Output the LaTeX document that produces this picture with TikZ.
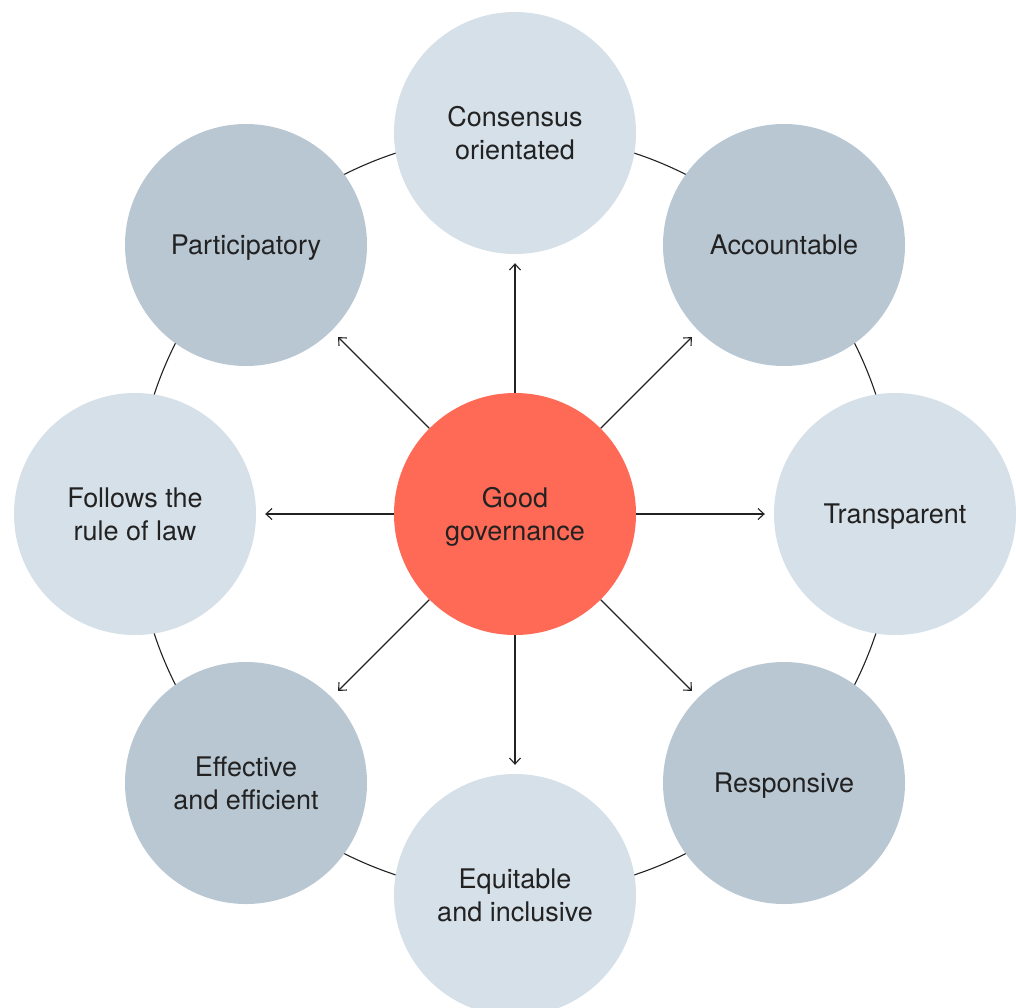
\documentclass[tikz,border=0pt]{standalone}
\usepackage{fontspec}
\setmainfont{TeX Gyre Heros}
\usetikzlibrary{arrows.meta}
\definecolor{lightblob}{HTML}{D6E0E8}
\definecolor{darkblob}{HTML}{B9C7D3}
\definecolor{coreblob}{HTML}{FF6A57}
\definecolor{ink}{HTML}{222222}
\begin{document}
\begin{tikzpicture}[x=1pt,y=-1pt,
  blob/.style={circle,minimum size=242pt,inner sep=0pt,align=center,text depth=0pt,
    font=\fontsize{27}{32.5}\selectfont,text=ink},
  light/.style={blob,fill=lightblob},
  dark/.style={blob,fill=darkblob},
  core/.style={blob,fill=coreblob},
  link/.style={draw=ink,line width=1.1pt,-{Straight Barb[length=6pt,width=11pt,line width=1.1pt]},shorten >=9pt},
  ring/.style={draw=ink,line width=1.1pt}]
\useasboundingbox (0,0) rectangle (1016,1007);
\coordinate (O) at (515,514);
\draw[ring] (O) circle[radius=380pt];

\node[core]  (g)  at (O) {Good\\governance};
\node[light] (n)  at (515,133) {Consensus\\orientated};
\node[dark]  (ne) at (784,245) {Accountable};
\node[light] (e)  at (895,514) {Transparent};
\node[dark]  (se) at (784,783) {Responsive};
\node[light] (s)  at (515,895) {Equitable\\and inclusive};
\node[dark]  (sw) at (246,783) {Effective\\and efficient};
\node[light] (w)  at (135,514) {Follows the\\rule of law};
\node[dark]  (nw) at (246,245) {Participatory};

\foreach \t in {n,ne,e,se,s,sw,w,nw}
  \draw[link] (g) -- (\t);
\end{tikzpicture}
\end{document}
